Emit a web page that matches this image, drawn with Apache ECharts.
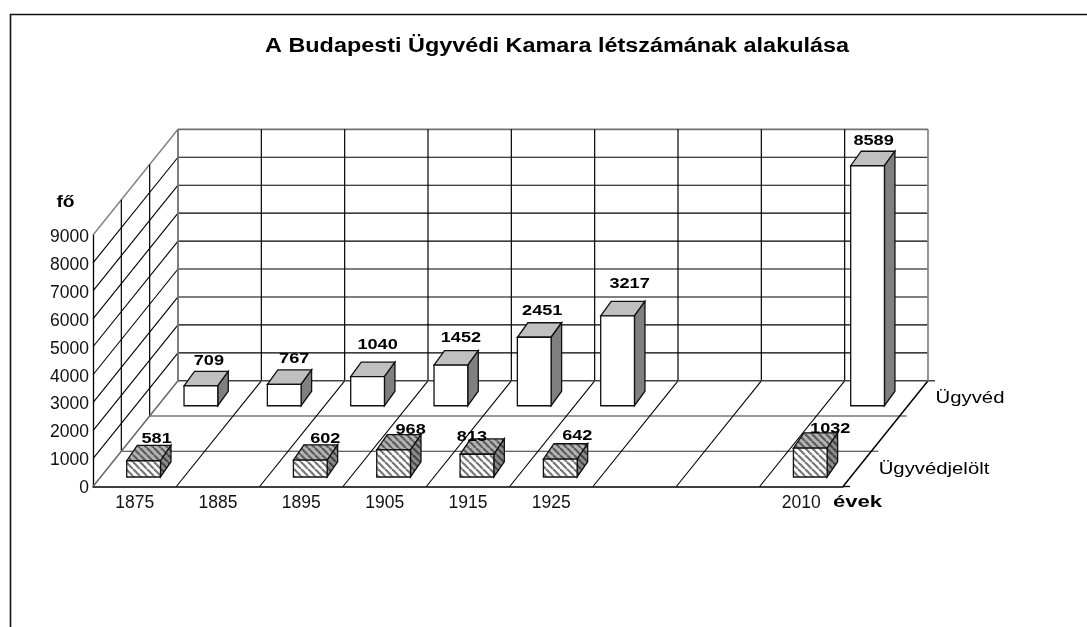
<!DOCTYPE html>
<html><head><meta charset="utf-8">
<style>html,body{margin:0;padding:0;background:#fff}#c{width:1087px;height:627px}</style>
<script src="https://cdn.jsdelivr.net/npm/echarts@6/dist/echarts.min.js"></script>
</head><body><div id="c"></div>
<script>
const chartTitle = 'A Budapesti Ügyvédi Kamara létszámának alakulása';
const categories = ['1875','1885','1895','1905','1915','1925','','','2010'];
const seriesNames = ['Ügyvéd','Ügyvédjelölt'];
const ugyved = [709,767,1040,1452,2451,3217,null,null,8589];
const ugyvedjelolt = [581,null,602,968,813,642,null,null,1032];
const yTicks = [0,1000,2000,3000,4000,5000,6000,7000,8000,9000];
const floorRows = [1/3,2/3];

const DEPTH_X = 85, DEPTH_Y = 105.7;
const font = 'Liberation Sans, Arial, sans-serif';
function hatch(bg, fg){
  const s = 7, c = document.createElement('canvas'); c.width = c.height = s;
  const g = c.getContext('2d'); g.fillStyle = bg; g.fillRect(0,0,s,s);
  g.strokeStyle = fg; g.lineWidth = 2.2;
  for (let k=-s;k<=s;k+=s){ g.beginPath(); g.moveTo(k,0); g.lineTo(k+s,s); g.stroke(); }
  return {image:c, repeat:'repeat'};
}
const styles = {
  [seriesNames[0]]: {front:'#ffffff', top:'#c0c0c0', side:'#808080', stroke:'#111', depth:0.764, shift:1.3, ddx:10.5, ddy:14.5, lab:11},
  [seriesNames[1]]: {front:hatch('#ffffff','#777777'), top:hatch('#b4b4b4','#5c5c5c'), side:hatch('#8c8c8c','#444444'), stroke:'#111', depth:0.09, shift:1.3, ddx:10.5, ddy:15.3, lab:6.5}
};
const labelNudge = {
  [seriesNames[0]]: {x:[8,10,10,10,8,12,0,0,6], y:[0,0,-6,-2,-1,-7,0,0,0]},
  [seriesNames[1]]: {x:[13,0,15,17,-5,17,0,0,20], y:[0,0,0,2,4,-2,0,0,2]}
};

function line(p,q,color,w){
  return {type:'line',shape:{x1:p[0],y1:p[1],x2:q[0],y2:q[1]},style:{stroke:color,lineWidth:w},silent:true};
}
function stretched(text,x,y,size,scale,weight){
  return {type:'text',x:x,y:y,scaleX:scale,silent:true,
    style:{text:text,font:(weight||'')+' '+size+'px '+font,fill:'#000',align:'center',verticalAlign:'middle'}};
}
function frameItem(params, api){
  const band = api.size([1,0])[0];
  const x0 = api.coord([0,0])[0]-band/2, y0 = api.coord([0,0])[1];
  const n = categories.length, x1 = x0+n*band;
  const yOf = v => api.coord([0,v])[1];
  const d = f => [f*DEPTH_X, -f*DEPTH_Y];
  const at = (x,y,f)=>[x+d(f)[0], y+d(f)[1]];
  const els = [];
  const top = yOf(yTicks[yTicks.length-1]);
  yTicks.forEach((v,i)=>{
    const y = yOf(v), last = i===yTicks.length-1;
    if (i>0) els.push(line(at(x0,y,1),at(x1,y,1), last?'#707070':'#000', last?1.8:1.1));
    if (i>0) els.push(line([x0,y],at(x0,y,1), last?'#808080':'#000', last?1.4:1.1));
  });
  for (let i=1;i<n;i++) els.push(line(at(x0+i*band,y0,1),at(x0+i*band,top,1),'#000',1.2));
  floorRows.forEach(f=> els.push(line(at(x0,y0,f),at(x0,top,f),'#000',1.2)));
  floorRows.forEach(f=>{ const p=at(x1,y0,f); els.push(line(at(x0,y0,f),[p[0]+7,p[1]],'#333',1.1)); });
  for (let i=1;i<n;i++) els.push(line([x0+i*band,y0],at(x0+i*band,y0,1),'#000',1.1));
  els.push(line([x1,y0],at(x1,y0,1),'#000',1.5));
  els.push(line([x0,y0],at(x0,y0,1),'#666',1.5));
  const bb = at(x1,y0,1);
  els.push(line(at(x0,y0,1),[bb[0]+7,bb[1]],'#444',1.4));
  els.push(line(at(x0,y0,1),at(x0,top,1),'#707070',1.8));
  els.push(line(bb,at(x1,top,1),'#888',1.8));
  els.push(line([x1,y0],[x1+7,y0],'#000',1.3));
  els.push(stretched(seriesNames[0],bb[0]+42,bb[1]+17.5,16,1.27));
  els.push(stretched(seriesNames[1],x1+91,y0-17,16,1.27));
  return {type:'group',children:els};
}
function barItem(name){
  const st = styles[name], nudge = labelNudge[name];
  return function(params, api){
    const i = api.value(0), v = api.value(1);
    if (isNaN(v)) return;
    const band = api.size([1,0])[0], w = band*0.405;
    const base = api.coord([i,0]), tp = api.coord([i,v]);
    const ox = st.shift+st.depth*DEPTH_X, oy = -st.depth*DEPTH_Y;
    const l = base[0]+ox-w/2, r = l+w, b = base[1]+oy, t = tp[1]+oy;
    const poly=(pts,fill)=>({type:'polygon',shape:{points:pts},style:{fill:fill,stroke:st.stroke,lineWidth:1.3}});
    return {type:'group',children:[
      poly([[l,t],[r,t],[r+st.ddx,t-st.ddy],[l+st.ddx,t-st.ddy]],st.top),
      poly([[r,t],[r+st.ddx,t-st.ddy],[r+st.ddx,b-st.ddy],[r,b]],st.side),
      poly([[l,t],[r,t],[r,b],[l,b]],st.front),
      stretched(String(v),(l+r)/2+nudge.x[i],t-st.ddy-st.lab+nudge.y[i],15.5,1.17,'bold')
    ]};
  };
}
const toData = arr => arr.map((v,i)=>[i,v===null?NaN:v]);

const chart = echarts.init(document.getElementById('c'),null,{renderer:'canvas'});
chart.setOption({
  animation:false,
  backgroundColor:'#fff',
  grid:{left:93,right:1087-843,top:235,bottom:627-486.5,containLabel:false},
  xAxis:{type:'category',data:categories,
    axisLine:{lineStyle:{color:'#000',width:1.5}},axisTick:{show:false},splitLine:{show:false},
    axisLabel:{interval:0,margin:8,fontFamily:font,fontSize:17.5,color:'#111'}},
  yAxis:{type:'value',min:0,max:9000,interval:1000,
    axisLine:{show:true,lineStyle:{color:'#000',width:1.3}},axisTick:{show:false},splitLine:{show:false},
    axisLabel:{margin:4,verticalAlign:'top',lineHeight:4,fontFamily:font,fontSize:17.5,color:'#111',formatter:v=>String(v)}},
  graphic:[
    {type:'polyline',shape:{points:[[10.5,630],[10.5,14.5],[1090,14.5]]},style:{stroke:'#111',lineWidth:1.6,fill:null},silent:true},
    {type:'text',x:557,y:46,scaleX:1.17,style:{text:chartTitle,font:'bold 20px '+font,fill:'#000',align:'center',verticalAlign:'middle'},silent:true},
    {type:'text',x:65.5,y:203,scaleX:1.2,style:{text:'fő',font:'bold 16px '+font,fill:'#000',align:'center',verticalAlign:'middle'},silent:true},
    {type:'text',x:857.5,y:502.5,scaleX:1.38,style:{text:'évek',font:'bold 16px '+font,fill:'#000',align:'center',verticalAlign:'middle'},silent:true}
  ],
  series:[
    {type:'custom',name:'keret',renderItem:frameItem,data:[[0,0]],encode:{x:0,y:1},clip:false,silent:true,z:1},
    {type:'custom',name:seriesNames[0],renderItem:barItem(seriesNames[0]),data:toData(ugyved),encode:{x:0,y:1},clip:false,z:2},
    {type:'custom',name:seriesNames[1],renderItem:barItem(seriesNames[1]),data:toData(ugyvedjelolt),encode:{x:0,y:1},clip:false,z:3}
  ]
});
</script></body></html>
